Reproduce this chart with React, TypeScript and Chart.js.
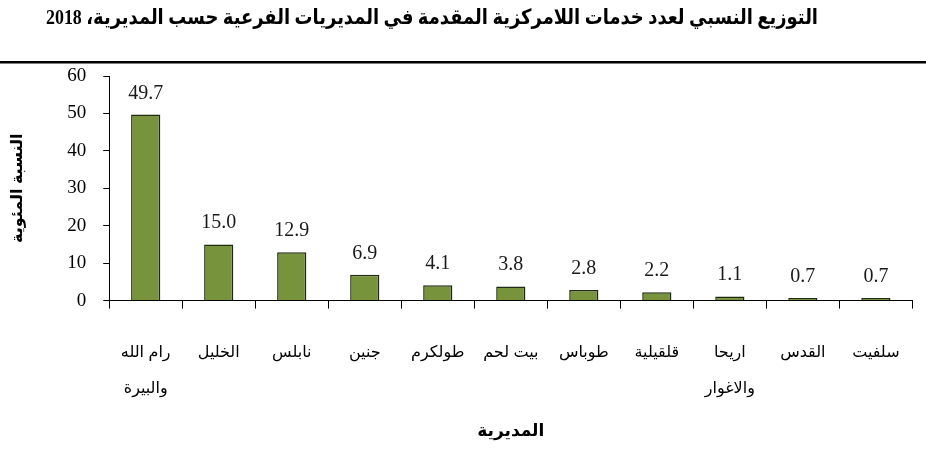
import { useEffect, useRef } from 'react';
import { Chart, registerables } from 'chart.js';

Chart.register(...registerables);

const TITLE = 'التوزيع النسبي لعدد خدمات اللامركزية المقدمة في المديريات الفرعية حسب المديرية، 2018';
const Y_TITLE = 'النسبة المئوية';
const X_TITLE = 'المديرية';

const categories: (string | string[])[] = [
  ['رام الله', 'والبيرة'],
  'الخليل',
  'نابلس',
  'جنين',
  'طولكرم',
  'بيت لحم',
  'طوباس',
  'قلقيلية',
  ['اريحا', 'والاغوار'],
  'القدس',
  'سلفيت',
];
const values = [49.7, 15.0, 12.9, 6.9, 4.1, 3.8, 2.8, 2.2, 1.1, 0.7, 0.7];
const yMin = 0;
const yMax = 60;
const yStep = 10;

const SERIF = "'Liberation Serif', 'Times New Roman', 'DejaVu Sans', serif";
const SANS = "'Liberation Sans', 'DejaVu Sans', sans-serif";

const headerPlugin = {
  id: 'header',
  afterDraw(chart: any) {
    const ctx = chart.ctx as CanvasRenderingContext2D;
    ctx.save();
    (ctx as any).direction = 'rtl';
    ctx.font = `bold 21px ${SERIF}`;
    const w = ctx.measureText(TITLE).width;
    const sx = w > 772 ? 772 / w : 1;
    ctx.fillStyle = '#000';
    ctx.textAlign = 'center';
    ctx.textBaseline = 'middle';
    ctx.translate(432, 19);
    ctx.scale(sx, 1);
    ctx.fillText(TITLE, 0, 0);
    ctx.restore();
    ctx.save();
    ctx.fillStyle = '#000';
    ctx.fillRect(0, 61, chart.width, 2.5);
    ctx.restore();
  },
};

const valueLabelPlugin = {
  id: 'valueLabels',
  afterDatasetsDraw(chart: any) {
    const ctx = chart.ctx as CanvasRenderingContext2D;
    const meta = chart.getDatasetMeta(0);
    ctx.save();
    ctx.font = `20px ${SERIF}`;
    ctx.fillStyle = '#1a1a1a';
    ctx.textAlign = 'center';
    ctx.textBaseline = 'alphabetic';
    meta.data.forEach((bar: any, i: number) => {
      ctx.fillText(values[i].toFixed(1), bar.x, bar.y - 16);
    });
    ctx.restore();
  },
};

export default function App() {
  const ref = useRef<HTMLCanvasElement | null>(null);

  useEffect(() => {
    if (!ref.current) return;
    const chart = new Chart(ref.current, {
      type: 'bar',
      data: {
        labels: categories,
        datasets: [
          {
            data: values,
            backgroundColor: '#77933C',
            borderColor: '#1f2a10',
            borderWidth: 1.5,
            barPercentage: 0.4,
            categoryPercentage: 1,
          },
        ],
      },
      options: {
        responsive: false,
        animation: false,
        layout: { padding: { top: 76, right: 10, left: 0, bottom: 0 } },
        plugins: {
          legend: { display: false },
          tooltip: { enabled: false },
          title: { display: false },
        },
        scales: {
          x: {
            grid: {
              offset: true,
              drawOnChartArea: false,
              drawTicks: true,
              tickLength: 8,
              color: '#000',
              lineWidth: 1,
            },
            border: { color: '#000', width: 1 },
            ticks: {
              autoSkip: false,
              maxRotation: 0,
              minRotation: 0,
              padding: 26,
              color: '#000',
              font: { family: SANS, size: 16, lineHeight: 2.25 },
            },
            title: {
              display: true,
              text: X_TITLE,
              color: '#000',
              font: { family: SANS, size: 17, weight: 'bold', lineHeight: 1.2 },
              padding: { top: -11, bottom: 12 },
            },
          },
          y: {
            min: yMin,
            max: yMax,
            grid: {
              drawOnChartArea: false,
              drawTicks: true,
              tickLength: 6,
              color: '#000',
              lineWidth: 1,
            },
            border: { color: '#000', width: 1 },
            ticks: {
              stepSize: yStep,
              padding: 17,
              color: '#000',
              font: { family: SERIF, size: 19 },
            },
            title: {
              display: true,
              text: Y_TITLE,
              color: '#000',
              font: { family: SANS, size: 16, weight: 'bold', lineHeight: 1.2 },
              padding: { top: 8, bottom: 23 },
            },
          },
        },
      },
      plugins: [headerPlugin, valueLabelPlugin],
    });
    return () => chart.destroy();
  }, []);

  return (
    <div style={{ position: 'absolute', left: 0, top: 0, width: 926, height: 454, background: '#fff' }}>
      <canvas ref={ref} width={926} height={454} style={{ display: 'block' }} />
    </div>
  );
}
